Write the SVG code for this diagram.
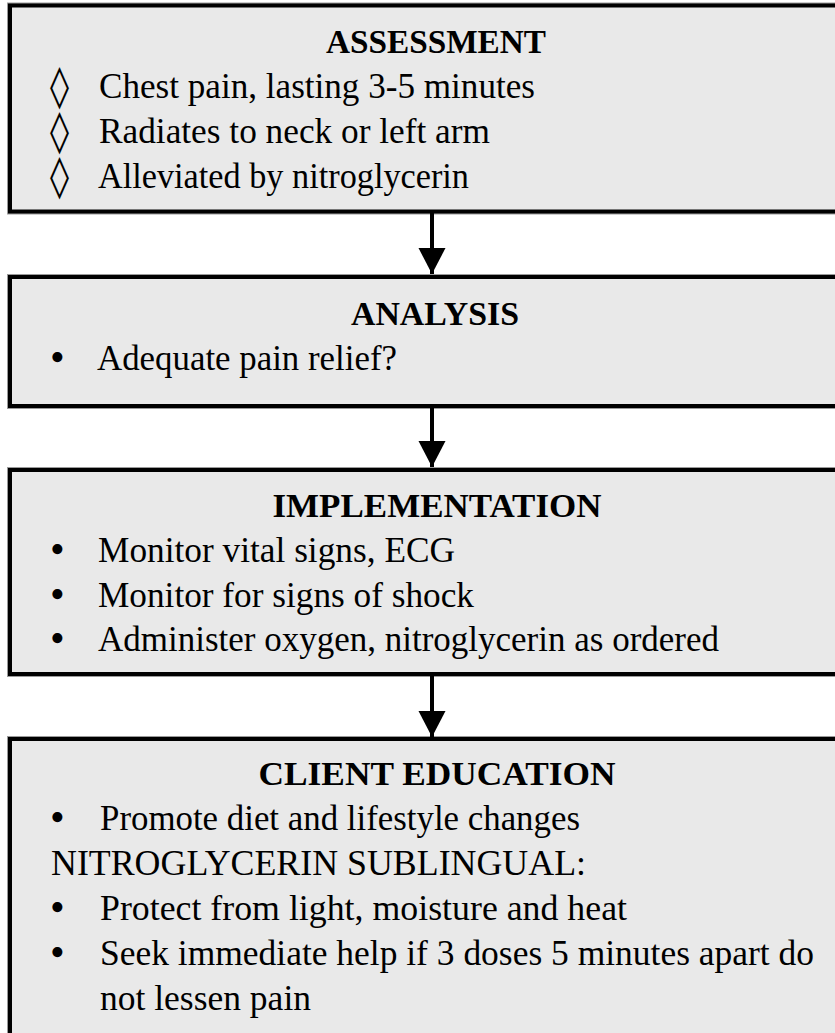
<svg xmlns="http://www.w3.org/2000/svg" width="835" height="1033" viewBox="0 0 835 1033">
<style>
.box{fill:#e9e9e9;stroke:#000;stroke-width:4}
.halo{fill:none;stroke:#9a9a9a;stroke-width:6}
.h{font-family:"Liberation Serif",serif;font-weight:bold;font-size:34px;fill:#000;text-anchor:middle}
.t{font-family:"Liberation Serif",serif;font-size:36px;fill:#000}
.b{font-family:"Liberation Serif",serif;font-size:42px;fill:#000}
.d{font-family:"DejaVu Serif","Liberation Serif",serif;font-size:41px;fill:#000}
.c{stroke:#000;stroke-width:4;fill:none}
</style>
<defs>
<marker id="ah" markerUnits="userSpaceOnUse" markerWidth="27" markerHeight="28" refX="26" refY="14" orient="auto">
<path d="M0,0.5 L26,14 L0,27.5 Z" fill="#000"/>
</marker>
</defs>
<g id="assessment">
<rect class="halo" x="10" y="5.5" width="880" height="206"/>
<rect class="box" x="10" y="5.5" width="880" height="206"/>
<text class="h" x="436" y="53" textLength="220" lengthAdjust="spacingAndGlyphs">ASSESSMENT</text>
<text class="d" x="50" y="100" textLength="19" lengthAdjust="spacingAndGlyphs">◊</text>
<text class="t" x="99" y="98" textLength="436" lengthAdjust="spacingAndGlyphs">Chest pain, lasting 3-5 minutes</text>
<text class="d" x="50" y="145" textLength="19" lengthAdjust="spacingAndGlyphs">◊</text>
<text class="t" x="99" y="143" textLength="391" lengthAdjust="spacingAndGlyphs">Radiates to neck or left arm</text>
<text class="d" x="50" y="190" textLength="19" lengthAdjust="spacingAndGlyphs">◊</text>
<text class="t" x="98" y="188" textLength="371" lengthAdjust="spacingAndGlyphs">Alleviated by nitroglycerin</text>
</g>
<g id="analysis">
<rect class="halo" x="10" y="277" width="880" height="129"/>
<rect class="box" x="10" y="277" width="880" height="129"/>
<text class="h" x="435" y="325" textLength="168" lengthAdjust="spacingAndGlyphs">ANALYSIS</text>
<text class="b" x="50" y="371">•</text>
<text class="t" x="97" y="370" textLength="300" lengthAdjust="spacingAndGlyphs">Adequate pain relief?</text>
</g>
<g id="implementation">
<rect class="halo" x="10" y="470" width="880" height="204"/>
<rect class="box" x="10" y="470" width="880" height="204"/>
<text class="h" x="437" y="517" textLength="329" lengthAdjust="spacingAndGlyphs">IMPLEMENTATION</text>
<text class="b" x="50" y="563">•</text>
<text class="t" x="98" y="562" textLength="357" lengthAdjust="spacingAndGlyphs">Monitor vital signs, ECG</text>
<text class="b" x="50" y="608">•</text>
<text class="t" x="98" y="607" textLength="376" lengthAdjust="spacingAndGlyphs">Monitor for signs of shock</text>
<text class="b" x="50" y="652">•</text>
<text class="t" x="98" y="651" textLength="621" lengthAdjust="spacingAndGlyphs">Administer oxygen, nitroglycerin as ordered</text>
</g>
<g id="client-education">
<rect class="halo" x="10" y="739" width="880" height="320"/>
<rect class="box" x="10" y="739" width="880" height="320"/>
<text class="h" x="437" y="785" textLength="357" lengthAdjust="spacingAndGlyphs">CLIENT EDUCATION</text>
<text class="b" x="50" y="831">•</text>
<text class="t" x="100" y="830" textLength="480" lengthAdjust="spacingAndGlyphs">Promote diet and lifestyle changes</text>
<text class="t" x="51" y="875" textLength="535" lengthAdjust="spacingAndGlyphs">NITROGLYCERIN SUBLINGUAL:</text>
<text class="b" x="50" y="921">•</text>
<text class="t" x="100" y="920" textLength="527" lengthAdjust="spacingAndGlyphs">Protect from light, moisture and heat</text>
<text class="b" x="50" y="966">•</text>
<text class="t" x="100" y="965" textLength="714" lengthAdjust="spacingAndGlyphs">Seek immediate help if 3 doses 5 minutes apart do</text>
<text class="t" x="100" y="1010" textLength="211" lengthAdjust="spacingAndGlyphs">not lessen pain</text>
</g>
<g id="connectors">
<line class="c" x1="432" y1="213" x2="432" y2="274" marker-end="url(#ah)"/>
<line class="c" x1="432" y1="408" x2="432" y2="467" marker-end="url(#ah)"/>
<line class="c" x1="432" y1="676" x2="432" y2="737" marker-end="url(#ah)"/>
</g>
</svg>
